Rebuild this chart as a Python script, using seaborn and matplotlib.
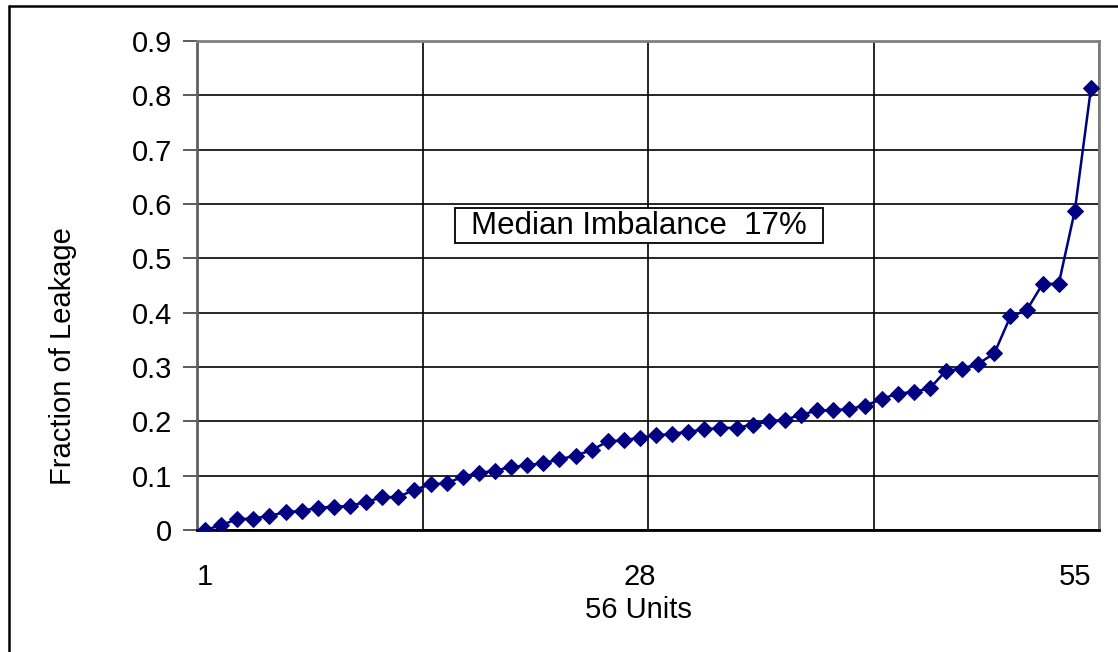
import matplotlib
matplotlib.use("Agg")
import matplotlib.pyplot as plt
from matplotlib.lines import Line2D
from matplotlib.patches import Rectangle
import seaborn as sns
import pandas as pd
import numpy as np

# fraction of leakage for each unit, sorted
units = list(range(1, 57))
leakage = [0.000, 0.009, 0.020, 0.021, 0.026, 0.033, 0.035, 0.041, 0.043, 0.044,
           0.052, 0.060, 0.061, 0.074, 0.084, 0.086, 0.098, 0.105, 0.109, 0.116,
           0.119, 0.123, 0.130, 0.137, 0.147, 0.163, 0.165, 0.170, 0.174, 0.177,
           0.181, 0.185, 0.188, 0.188, 0.194, 0.200, 0.203, 0.212, 0.220, 0.220,
           0.223, 0.229, 0.241, 0.251, 0.254, 0.261, 0.293, 0.297, 0.306, 0.325,
           0.393, 0.404, 0.453, 0.453, 0.588, 0.813]
x_tick_units = [1, 28, 55]
y_ticks = [0, 0.1, 0.2, 0.3, 0.4, 0.5, 0.6, 0.7, 0.8, 0.9]
y_tick_labels = ["0", "0.1", "0.2", "0.3", "0.4", "0.5", "0.6", "0.7", "0.8", "0.9"]
note = "Median Imbalance  17%"

sns.set_style("white")
plt.rcParams['font.family'] = ['Liberation Sans', 'DejaVu Sans']
plt.rcParams['text.color'] = 'black'
plt.rcParams['axes.labelcolor'] = 'black'
plt.rcParams['xtick.color'] = 'black'
plt.rcParams['ytick.color'] = 'black'

df = pd.DataFrame({"unit": units, "leakage": leakage})

fig = plt.figure(figsize=(11.18, 6.52), dpi=100)
ax = fig.add_axes([197 / 1118, 1 - 530 / 652, (1099 - 197) / 1118, (530 - 41) / 652])

sns.lineplot(data=df, x="unit", y="leakage", ax=ax, color="#000080", lw=1.8,
             marker="D", markersize=8.5, markeredgecolor="#000080", zorder=3)

n = len(units)
ax.set_xlim(0.5, n + 0.5)
ax.set_ylim(0, 0.9)

# category axis: labels every 27 units, tick marks / gridlines every 14
ax.set_xticks(x_tick_units)
ax.set_xticklabels([str(u) for u in x_tick_units])
ax.set_xticks(np.arange(0.5, n + 1, 14), minor=True)
ax.tick_params(axis="x", which="major", length=0, pad=24, labelsize=21)
ax.tick_params(axis="x", which="minor", length=8, width=1.2, color="black", direction="out")

ax.set_yticks(y_ticks)
ax.set_yticklabels(y_tick_labels)
ax.tick_params(axis="y", which="major", length=10, width=1.2, color="#404040",
               direction="out", pad=8, labelsize=21, left=True)

ax.grid(False)
ax.yaxis.grid(True, color="black", lw=1.2)
ax.xaxis.grid(True, which="minor", color="black", lw=1.2)

for side in ["top", "right"]:
    ax.spines[side].set_visible(True)
    ax.spines[side].set_color("#808080")
    ax.spines[side].set_linewidth(2)
ax.spines["left"].set_color("#606060")
ax.spines["left"].set_linewidth(2)
ax.spines["bottom"].set_color("black")
ax.spines["bottom"].set_linewidth(2)

ax.set_xlabel("56 Units", fontsize=21)
ax.xaxis.set_label_coords(0.489, -0.135)
ax.xaxis.label.set_va("top")
ax.set_ylabel("Fraction of Leakage", fontsize=21)
ax.yaxis.set_label_coords(-0.133, 0.355)

# annotation box
ax.add_patch(Rectangle((0.286, 0.587), 0.408, 0.0715, transform=ax.transAxes,
                       fc="white", ec="black", lw=1.3, zorder=4))
ax.text(0.49, 0.622, note, transform=ax.transAxes, ha="center", va="center",
        fontsize=22.5, zorder=5)

# outer chart frame (left and top edges visible)
fig.add_artist(Line2D([9 / 1118, 9 / 1118], [0, 1 - 6 / 652], color="black", lw=1.8,
                      transform=fig.transFigure))
fig.add_artist(Line2D([9 / 1118, 1], [1 - 6 / 652, 1 - 6 / 652], color="black", lw=1.8,
                      transform=fig.transFigure))

fig.savefig("out.png", dpi=100, facecolor="white")
